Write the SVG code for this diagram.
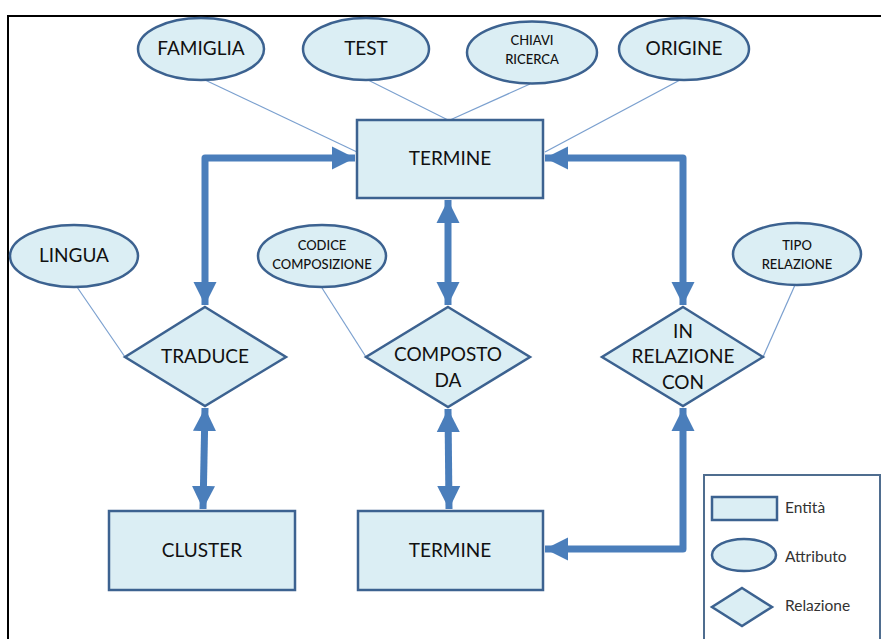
<svg xmlns="http://www.w3.org/2000/svg" width="881" height="639" viewBox="0 0 881 639">
<style>
.ent{fill:#DBEEF4;stroke:#3C6290;stroke-width:2.5}
.lbl{font-family:Lato,"Open Sans",sans-serif;fill:#111;text-anchor:middle}
.big{font-size:19px}
.sm{font-size:13px;font-weight:500}
.leg{font-family:Lato,"Open Sans",sans-serif;fill:#333;font-size:15.5px}
.thin{stroke:#7BA0CF;stroke-width:1.2;fill:none}
.thick{stroke:#4A7EBB;stroke-width:7;fill:none;stroke-linejoin:round}
</style>
<defs>
<marker id="ah" viewBox="0 0 10 10" refX="10" refY="5" markerWidth="3.3" markerHeight="3.5" markerUnits="strokeWidth" orient="auto-start-reverse">
<path d="M0,0 L10,5 L0,10 Z" fill="#4A7EBB"/>
</marker>
</defs>
<rect x="0" y="0" width="881" height="639" fill="#ffffff"/>
<path d="M8,639 V16 H881" fill="none" stroke="#000" stroke-width="2"/>

<g id="connectors">
<line class="thin" x1="205" y1="80" x2="357" y2="152"/>
<line class="thin" x1="368" y1="80" x2="448" y2="120"/>
<line class="thin" x1="530" y1="84" x2="450" y2="120"/>
<line class="thin" x1="680" y1="80" x2="545" y2="152"/>
<line class="thin" x1="77" y1="287" x2="125" y2="357"/>
<line class="thin" x1="322" y1="288" x2="366" y2="357"/>
<line class="thin" x1="795" y1="285" x2="763" y2="357"/>
<path class="thick" d="M205,305 V158 H355" marker-start="url(#ah)" marker-end="url(#ah)"/>
<path class="thick" d="M448,200 V305" marker-start="url(#ah)" marker-end="url(#ah)"/>
<path class="thick" d="M545,158 H683 V305" marker-start="url(#ah)" marker-end="url(#ah)"/>
<path class="thick" d="M205,408 L203,509" marker-start="url(#ah)" marker-end="url(#ah)"/>
<path class="thick" d="M448,409 L449,509" marker-start="url(#ah)" marker-end="url(#ah)"/>
<path class="thick" d="M683,408 V549 H545" marker-start="url(#ah)" marker-end="url(#ah)"/>
</g>

<g id="famiglia"><ellipse class="ent" cx="201" cy="49" rx="63" ry="31"/><text class="lbl big" x="201" y="55">FAMIGLIA</text></g>
<g id="test"><ellipse class="ent" cx="366" cy="49" rx="63" ry="31"/><text class="lbl big" x="366" y="55">TEST</text></g>
<g id="chiavi"><ellipse class="ent" cx="532" cy="52.5" rx="65" ry="31"/><text class="lbl sm" x="532" y="45">CHIAVI</text><text class="lbl sm" x="532" y="64">RICERCA</text></g>
<g id="origine"><ellipse class="ent" cx="684" cy="49" rx="65" ry="31"/><text class="lbl big" x="684" y="55">ORIGINE</text></g>

<g id="termine1"><rect class="ent" x="357" y="120" width="186" height="78"/><text class="lbl big" x="450" y="165">TERMINE</text></g>

<g id="lingua"><ellipse class="ent" cx="74" cy="256" rx="64" ry="31"/><text class="lbl big" x="74" y="262">LINGUA</text></g>
<g id="codice"><ellipse class="ent" cx="322" cy="256" rx="64" ry="31"/><text class="lbl sm" x="322" y="250">CODICE</text><text class="lbl sm" x="322" y="269">COMPOSIZIONE</text></g>
<g id="tipo"><ellipse class="ent" cx="797" cy="254" rx="64" ry="31"/><text class="lbl sm" x="797" y="250">TIPO</text><text class="lbl sm" x="797" y="269">RELAZIONE</text></g>

<g id="traduce"><polygon class="ent" points="205,307 286,357 205,406 125,357"/><text class="lbl big" x="205" y="363">TRADUCE</text></g>
<g id="composto"><polygon class="ent" points="448,307 530,357 448,407 366,357"/><text class="lbl big" x="448" y="361">COMPOSTO</text><text class="lbl big" x="448" y="387">DA</text></g>
<g id="inrelazione"><polygon class="ent" points="683,307 763,357 683,406 602,357"/><text class="lbl big" x="683" y="338">IN</text><text class="lbl big" x="683" y="363">RELAZIONE</text><text class="lbl big" x="683" y="389">CON</text></g>

<g id="cluster"><rect class="ent" x="109" y="511" width="186" height="79"/><text class="lbl big" x="202" y="557">CLUSTER</text></g>
<g id="termine2"><rect class="ent" x="358" y="511" width="185" height="79"/><text class="lbl big" x="450" y="557">TERMINE</text></g>

<g id="legend">
<path d="M704,639 V475 H880 V639" fill="#fff" stroke="#4F6D8F" stroke-width="2"/>
<rect class="ent" x="712" y="497" width="65" height="23"/>
<text class="leg" x="785" y="513">Entità</text>
<ellipse class="ent" cx="744" cy="555" rx="32" ry="16"/>
<text class="leg" x="785" y="562">Attributo</text>
<polygon class="ent" points="742,588 772,607 742,626 712,607"/>
<text class="leg" x="785" y="611">Relazione</text>
</g>
</svg>
